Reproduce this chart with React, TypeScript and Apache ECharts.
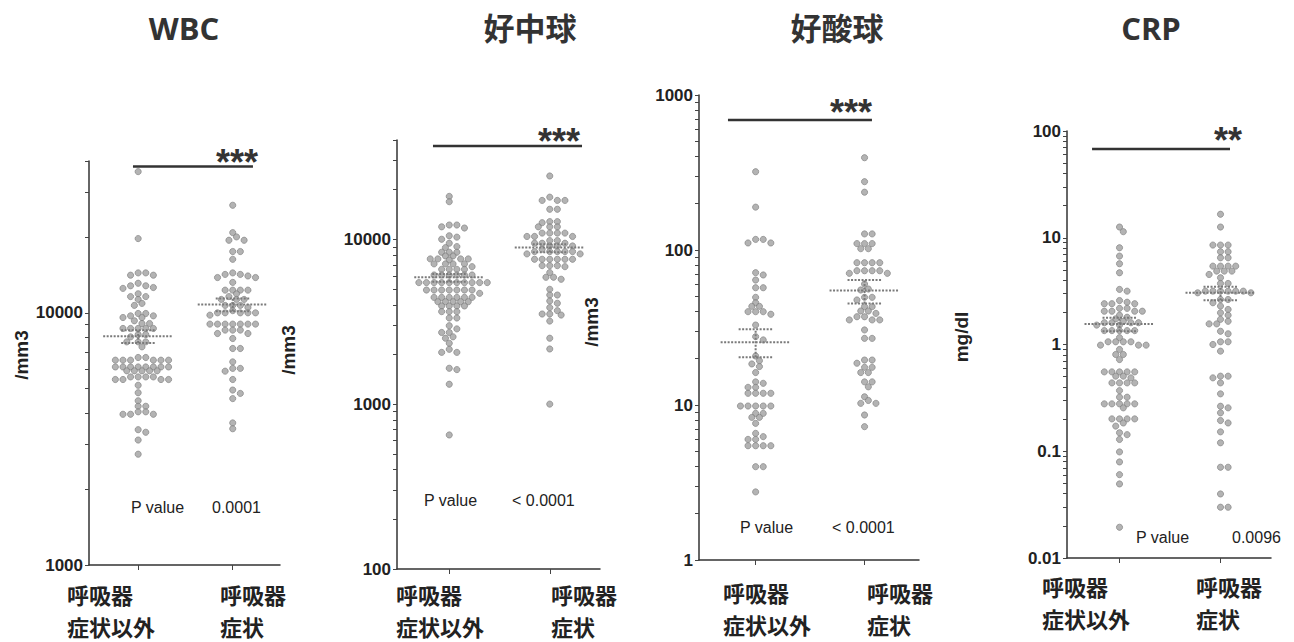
import React, { useEffect, useRef } from 'react';
import * as echarts from 'echarts';

// ---------------- DATA ----------------
const categories = ['呼吸器\n症状以外', '呼吸器\n症状'];
const titles = ['WBC', '好中球', '好酸球', 'CRP'];
const yAxisNames = ['/mm3', '/mm3', '/mm3', 'mg/dl'];

const wbcOther = [36300, 19700, 14400, 14400, 14100, 14100, 13100, 12800, 12800, 12600, 12500, 11900, 11600, 11600, 11300, 10900, 10700, 9940, 9940, 9730, 9730, 9580, 9580, 9300, 9070, 9070, 8670, 8670, 8670, 8670, 8670, 8200, 8200, 8030, 7670, 7670, 7670, 7330, 6650, 6650, 6490, 6490, 6490, 6490, 6490, 6490, 6100, 6100, 6100, 6100, 6100, 6100, 6100, 6100, 5890, 5890, 5890, 5890, 5890, 5570, 5570, 5570, 5570, 5440, 5440, 5440, 5440, 5160, 4820, 4480, 4260, 4260, 4050, 4050, 3960, 3960, 3960, 3440, 3360, 3130, 2750];
const wbcResp = [26700, 20800, 20000, 19400, 19400, 17500, 17500, 16300, 14400, 14200, 14200, 14000, 13800, 13800, 13200, 12300, 12300, 12300, 12300, 11900, 11600, 11300, 11300, 11300, 10700, 10700, 10700, 10500, 10200, 10000, 10000, 10000, 10000, 10000, 9790, 9020, 9020, 9020, 9020, 9020, 9020, 9020, 8540, 8540, 8540, 8280, 8280, 7910, 7220, 7220, 6390, 6020, 6020, 5870, 5440, 4940, 4790, 4570, 3660, 3470];

const neutOther = [18200, 16900, 12200, 12200, 11900, 11700, 10500, 10300, 10000, 9460, 9030, 8900, 8340, 8340, 8340, 7920, 7920, 7600, 7600, 7600, 7600, 7490, 7090, 7090, 7090, 7090, 6820, 6570, 6570, 6570, 6570, 6070, 6070, 6070, 6070, 6070, 6070, 5460, 5460, 5460, 5460, 5460, 5460, 5460, 5460, 5460, 5460, 4920, 4920, 4920, 4920, 4920, 4920, 4920, 4700, 4440, 4440, 4440, 4440, 4440, 4440, 4180, 4180, 4180, 4180, 4180, 3940, 3940, 3940, 3940, 3640, 3640, 3640, 3330, 3330, 2990, 2860, 2720, 2720, 2560, 2510, 2340, 2150, 2060, 2060, 1650, 1620, 1320, 650];
const neutResp = [24200, 18000, 17200, 17200, 17200, 15200, 15200, 12800, 12800, 12600, 11900, 11900, 11900, 10900, 10900, 10900, 10900, 10400, 10400, 10400, 9820, 9820, 9460, 9460, 9460, 9110, 9110, 9110, 8700, 8420, 8420, 8420, 8420, 8420, 8150, 8150, 7560, 7560, 7560, 7560, 7560, 7560, 6920, 6920, 6920, 6820, 6280, 5880, 5880, 5720, 4970, 4590, 4590, 4220, 4090, 3850, 3690, 3520, 3520, 3470, 3190, 2510, 2160, 1000];

const eosOther = [320, 189, 117, 117, 111, 111, 71.4, 69, 64, 57.1, 57.1, 49.5, 45.7, 43.3, 43.3, 40, 40, 40, 38.5, 32.8, 27.6, 26.3, 20.7, 19.3, 18.4, 17.7, 16.2, 14.1, 13.8, 13, 13, 11.9, 11.9, 11.9, 11.9, 9.85, 9.85, 9.85, 9.85, 9.85, 8.83, 8.83, 8.32, 8.32, 7.61, 6.56, 6.25, 6, 6, 5.46, 5.46, 5.46, 5.46, 4, 4, 2.75];
const eosResp = [394, 276, 236, 127, 127, 110, 110, 110, 102, 102, 82.8, 82.8, 82.8, 82.8, 73.5, 73.5, 73.5, 73.5, 70.7, 70.7, 60.3, 56, 55.2, 49.5, 49.5, 47.6, 43.1, 43.1, 40.4, 40.4, 39, 37.1, 37.1, 35.4, 35.4, 35.4, 30.5, 26.9, 26.9, 19.5, 19.5, 18.6, 17.5, 17.5, 16.2, 16.2, 14.1, 14.1, 13.1, 11.3, 10.7, 10.25, 10.25, 8.62, 7.25];

const crpOther = [12.6, 11.4, 8.06, 6.73, 5.71, 4.7, 3.28, 3.16, 2.58, 2.49, 2.41, 2.41, 2.41, 2.18, 2.18, 2.05, 2.05, 2.05, 2.05, 1.88, 1.8, 1.74, 1.65, 1.6, 1.6, 1.6, 1.6, 1.52, 1.52, 1.35, 1.35, 1.35, 1.35, 1.35, 1.16, 1.06, 1.06, 1.06, 1.06, 0.986, 0.986, 0.986, 0.898, 0.806, 0.806, 0.723, 0.554, 0.554, 0.554, 0.554, 0.554, 0.505, 0.505, 0.487, 0.437, 0.437, 0.437, 0.437, 0.37, 0.321, 0.321, 0.278, 0.278, 0.278, 0.278, 0.278, 0.255, 0.201, 0.201, 0.201, 0.201, 0.184, 0.172, 0.149, 0.143, 0.129, 0.0986, 0.0794, 0.0604, 0.0494, 0.0194];
const crpResp = [16.6, 12.6, 8.54, 8.54, 8.54, 7.39, 7.39, 6.49, 6.49, 5.42, 5.42, 5.42, 5.42, 4.87, 4.87, 4.87, 4.53, 4.22, 3.73, 3.73, 3.16, 3.16, 3.16, 3.16, 3.16, 3.16, 3.05, 3.05, 2.64, 2.64, 2.46, 2.29, 2.13, 1.98, 1.88, 1.72, 1.65, 1.56, 1.56, 1.33, 1.26, 1.06, 1.06, 1, 0.866, 0.505, 0.505, 0.487, 0.437, 0.345, 0.264, 0.255, 0.229, 0.194, 0.184, 0.152, 0.12, 0.0708, 0.0708, 0.0398, 0.0299, 0.0299];

// mean, SEM low, SEM high for [other, resp]
const wbcStats = [[8080, 7600, 8530], [10800, 10150, 11400]];
const neutStats = [[5880, 5530, 6160], [8900, 8340, 9330]];
const eosStats = [[25.4, 20.3, 30.8], [54.7, 45.2, 64]];
const crpStats = [[1.56, 1.33, 1.78], [3.05, 2.6, 3.47]];

const pValues = ['0.0001', '< 0.0001', '< 0.0001', '0.0096'];
const sigStars = ['***', '***', '***', '**'];
const sigLevel = [38000, 36800, 690, 68];
const sigSpan = [[-0.055, 1.214], [-0.162, 1.321], [-0.254, 1.068], [-0.272, 1.094]];

const yRange = [[1000, 40000], [100, 40000], [1, 1000], [0.01, 100]];
const yDecadeLabels = [[1000, 10000], [100, 1000, 10000], [1, 10, 100, 1000], [0.01, 0.1, 1, 10, 100]];

// ---------------- LAYOUT ----------------
const GRID = [
  { left: 89, top: 161, width: 191, height: 404 },
  { left: 397, top: 140, width: 203, height: 429 },
  { left: 699, top: 95, width: 220, height: 465 },
  { left: 1067, top: 131, width: 204, height: 427 },
];
const X_MIN = -0.52;
const X_MAX = 1.5;
const DOT_STEP = 7.6;
const DOT_CLEAR = 5.2;
const TITLE_X = [184, 530, 837, 1151];
const YNAME_POS = [[21, 355], [288, 350], [591, 322], [961, 337]];
const PVAL_POS = [[131, 507, 212], [424, 500, 512], [740, 527, 832], [1136, 537, 1232]];
const XLAB_POS = [[67, 220, 593.5], [396, 551, 593.5], [723, 867, 592], [1042, 1196, 586]];
const XLAB_GAP = 32;
const STAR_POS = [[258, 162], [580, 141], [872, 112], [1242, 140]];

const groups = [
  [wbcOther, wbcResp],
  [neutOther, neutResp],
  [eosOther, eosResp],
  [crpOther, crpResp],
];
const stats = [wbcStats, neutStats, eosStats, crpStats];

const FONT_NUM = "'Liberation Sans', Arial, sans-serif";
const FONT_TITLE = "'Open Sans', 'Noto Sans CJK JP', sans-serif";
const FONT_CJK = "'Noto Sans CJK JP', sans-serif";

function swarmOffsets(values: number[], pxPerDecade: number) {
  const placed: { x: number; y: number }[] = [];
  const order = values.map((_, i) => i).sort((a, b) => values[b] - values[a]);
  const offs: number[] = new Array(values.length).fill(0);
  const clear2 = DOT_CLEAR * DOT_CLEAR;
  for (const i of order) {
    const y = Math.log10(values[i]) * pxPerDecade;
    let found = 0;
    for (let n = 0; n < 80; n++) {
      const cand = n === 0 ? 0 : (n % 2 === 1 ? 1 : -1) * Math.ceil(n / 2) * DOT_STEP / 2;
      let ok = true;
      for (const p of placed) {
        const dx = p.x - cand;
        const dy = p.y - y;
        if (Math.abs(dy) < 1.5 ? Math.abs(dx) < DOT_STEP - 0.01 : dx * dx + dy * dy < clear2) { ok = false; break; }
      }
      if (ok) { found = cand; break; }
    }
    placed.push({ x: found, y });
    offs[i] = found;
  }
  return offs;
}

function minorTicks(min: number, max: number) {
  const out: number[] = [];
  for (let d = min; d < max * 1.0001; d *= 10) {
    for (let m = 1; m <= 9; m++) {
      const v = +(m * d).toPrecision(6);
      if (v <= max * 1.0001) out.push(v);
    }
  }
  return out;
}

function fmtLabel(v: number) {
  if (v >= 1) return String(Math.round(v));
  return String(+v.toPrecision(1));
}

function buildOption() {
  const grid: any[] = [];
  const xAxis: any[] = [];
  const yAxis: any[] = [];
  const series: any[] = [];
  const graphic: any[] = [];

  GRID.forEach((g, p) => {
    grid.push({ ...g, containLabel: false, outerBoundsMode: 'none' });
    const [ymin, ymax] = yRange[p];
    xAxis.push({
      type: 'value', gridIndex: p, min: X_MIN, max: X_MAX,
      axisLine: { show: true, onZero: false, lineStyle: { color: '#333', width: 1.5 } },
      axisTick: { show: true, customValues: [0, 1], length: 5, lineStyle: { color: '#444', width: 1 } },
      axisLabel: { show: false },
      splitLine: { show: false },
    });
    yAxis.push({
      type: 'log', logBase: 10, gridIndex: p, min: ymin, max: ymax,
      axisLine: { show: true, onZero: false, lineStyle: { color: '#333', width: 1.5 } },
      axisTick: { show: true, customValues: minorTicks(ymin, ymax), length: 4, lineStyle: { color: '#444', width: 1 } },
      axisLabel: {
        show: true, customValues: yDecadeLabels[p], formatter: (v: number) => fmtLabel(v),
        fontSize: 17, fontWeight: 'bold', fontFamily: FONT_NUM, color: '#222', margin: 6,
      },
      splitLine: { show: false },
      minorTick: { show: false },
    });

    const pxPerDecade = g.height / Math.log10(ymax / ymin);
    const pxPerUnit = g.width / (X_MAX - X_MIN);
    groups[p].forEach((vals, gi) => {
      const offs = swarmOffsets(vals, pxPerDecade);
      series.push({
        type: 'scatter', xAxisIndex: p, yAxisIndex: p, name: categories[gi].replace('\n', ''),
        symbol: 'circle', symbolSize: 6.2,
        itemStyle: { color: '#a0a0a0', borderColor: '#7c7c7c', borderWidth: 0.8 },
        data: vals.map((v, i) => [gi + offs[i] / pxPerUnit, v]),
        z: 2,
      });
    });

    series.push({
      type: 'custom', xAxisIndex: p, yAxisIndex: p, z: 3,
      data: stats[p].map((s, gi) => [gi, s[0], s[1], s[2]]),
      encode: { x: 0, y: [1, 2, 3] },
      renderItem: (params: any, api: any) => {
        const gi = api.value(0);
        const pm = api.coord([gi, api.value(1)]);
        const pl = api.coord([gi, api.value(2)]);
        const ph = api.coord([gi, api.value(3)]);
        const st = { stroke: '#7a7a7a', lineWidth: 2, lineDash: [2, 1.5] };
        return {
          type: 'group',
          children: [
            { type: 'line', shape: { x1: pm[0] - 35, y1: pm[1], x2: pm[0] + 35, y2: pm[1] }, style: st },
            { type: 'line', shape: { x1: pl[0] - 17, y1: pl[1], x2: pl[0] + 17, y2: pl[1] }, style: st },
            { type: 'line', shape: { x1: ph[0] - 17, y1: ph[1], x2: ph[0] + 17, y2: ph[1] }, style: st },
            { type: 'line', shape: { x1: pl[0], y1: pl[1], x2: ph[0], y2: ph[1] }, style: st },
          ],
        };
      },
    });

    series.push({
      type: 'line', xAxisIndex: p, yAxisIndex: p, symbol: 'none', z: 4,
      lineStyle: { color: '#333', width: 2.5 },
      data: [[sigSpan[p][0], sigLevel[p]], [sigSpan[p][1], sigLevel[p]]],
    });

    // title
    graphic.push({
      type: 'text', x: TITLE_X[p], y: 28,
      style: {
        text: titles[p], fill: '#333', fontSize: 31, fontWeight: 'bold', fontFamily: FONT_TITLE,
        align: 'center', verticalAlign: 'middle', textAlign: 'center', textVerticalAlign: 'middle',
      },
    });
    // y axis name
    graphic.push({
      type: 'text', x: YNAME_POS[p][0], y: YNAME_POS[p][1], rotation: Math.PI / 2,
      style: {
        text: yAxisNames[p], fill: '#222', fontSize: 19, fontWeight: 'bold', fontFamily: FONT_NUM,
        align: 'center', verticalAlign: 'middle', textAlign: 'center', textVerticalAlign: 'middle',
      },
    });
    // p value
    graphic.push({
      type: 'text', x: PVAL_POS[p][0], y: PVAL_POS[p][1],
      style: {
        text: 'P value', fill: '#222', fontSize: 16, fontFamily: FONT_NUM,
        align: 'left', verticalAlign: 'middle', textAlign: 'left', textVerticalAlign: 'middle',
      },
    });
    graphic.push({
      type: 'text', x: PVAL_POS[p][2], y: PVAL_POS[p][1],
      style: {
        text: pValues[p], fill: '#222', fontSize: 16, fontFamily: FONT_NUM,
        align: 'left', verticalAlign: 'middle', textAlign: 'left', textVerticalAlign: 'middle',
      },
    });
    // stars
    graphic.push({
      type: 'text', x: STAR_POS[p][0], y: STAR_POS[p][1],
      style: {
        text: sigStars[p], fill: '#333', fontSize: 36, fontWeight: 'bold', fontFamily: FONT_NUM,
        align: 'right', verticalAlign: 'middle', textAlign: 'right', textVerticalAlign: 'middle',
      },
    });
    // category labels (two lines each)
    [XLAB_POS[p][0], XLAB_POS[p][1]].forEach((lx, gi) => {
      categories[gi].split('\n').forEach((line, li) => {
        graphic.push({
          type: 'text', x: lx, y: XLAB_POS[p][2] + li * XLAB_GAP,
          style: {
            text: line, fill: '#222', fontSize: 22, fontWeight: 'bold', fontFamily: FONT_CJK,
            align: 'left', verticalAlign: 'middle', textAlign: 'left', textVerticalAlign: 'middle',
          },
        });
      });
    });
  });

  return {
    animation: false,
    backgroundColor: '#fff',
    grid, xAxis, yAxis, series, graphic,
  };
}

export default function App() {
  const ref = useRef<HTMLDivElement>(null);
  useEffect(() => {
    const chart = echarts.init(ref.current!, null, { renderer: 'svg' });
    chart.setOption(buildOption() as any);
    return () => chart.dispose();
  }, []);
  return (
    <div
      ref={ref}
      style={{ position: 'absolute', left: 0, top: 0, width: 1294, height: 642, background: '#fff' }}
    />
  );
}
